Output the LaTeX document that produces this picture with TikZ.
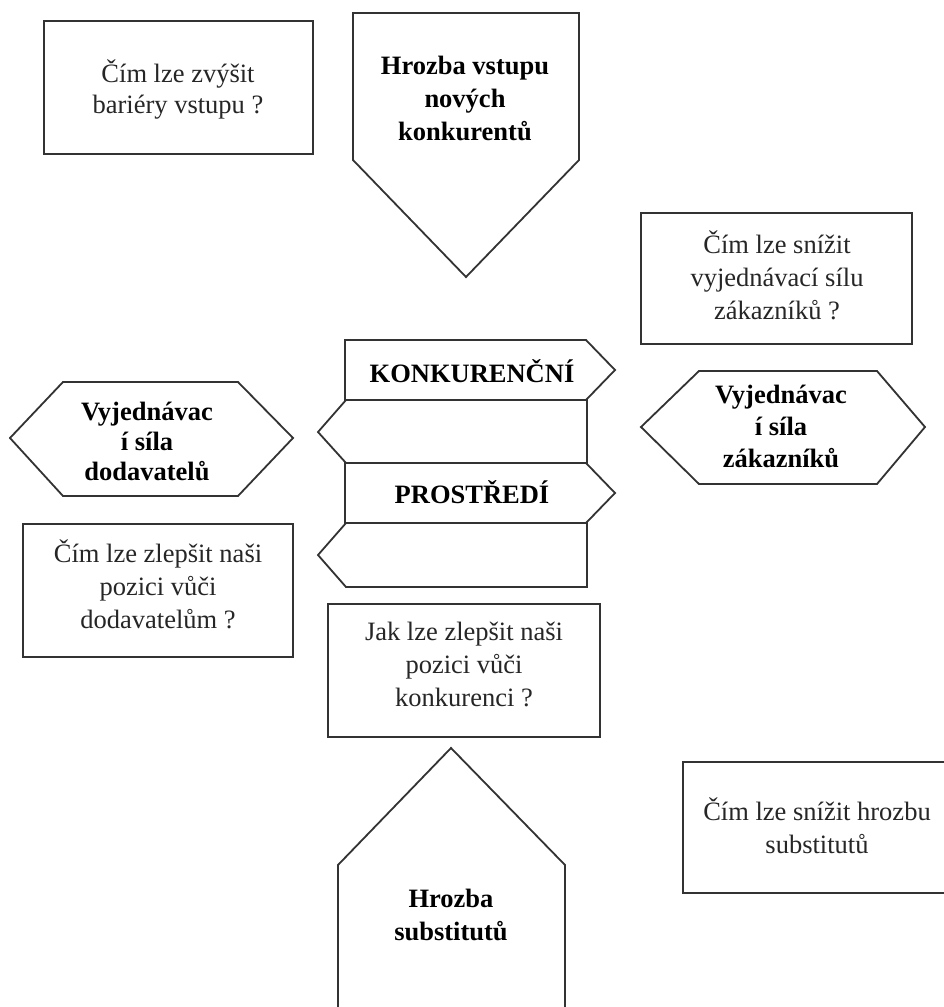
\documentclass[tikz,border=0pt]{standalone}
\usepackage{fontspec}
\setmainfont{Liberation Serif}
\newcommand\mlines[2]{{\renewcommand\arraystretch{1}\setlength\tabcolsep{0pt}\fontsize{26.5}{#1}\selectfont\begin{tabular}[t]{c}#2\end{tabular}}}
\tikzset{
  shp/.style={draw=black!80, line width=1.8pt, line join=miter},
  reg/.style={inner sep=0pt, anchor=base, text=black!85},
  bld/.style={inner sep=0pt, anchor=base, text=black, font=\bfseries},
}
\begin{document}
\begin{tikzpicture}[x=1pt,y=-1pt]
\useasboundingbox (0,0) rectangle (944,1007);
\clip (0,0) rectangle (944,1007);
\fill[white] (0,0) rectangle (944,1007);
% boxes
\draw[shp] (44,21) rectangle (313,154);
\draw[shp] (641,213) rectangle (912,344);
\draw[shp] (23,524) rectangle (293,657);
\draw[shp] (328,604) rectangle (600,737);
\draw[shp] (960,762) -- (683,762) -- (683,893) -- (960,893);
% pentagons
\draw[shp] (353,13) -- (579,13) -- (579,160) -- (466,277) -- (353,160) -- cycle;
\draw[shp] (338,1020) -- (338,865) -- (451,748) -- (565,865) -- (565,1020);
% hexagons
\draw[shp] (10,438) -- (63,382) -- (238,382) -- (293,438) -- (238,496) -- (63,496) -- cycle;
\draw[shp] (641,427) -- (699,371) -- (877,371) -- (925,427) -- (877,484) -- (699,484) -- cycle;
% central tiles
\draw[shp] (345,340) -- (586,340) -- (615,370) -- (586,400) -- (345,400) -- cycle;
\draw[shp] (346,400) -- (587,400) -- (587,463) -- (346,463) -- (318,432) -- cycle;
\draw[shp] (345,463) -- (586,463) -- (615,493) -- (586,523) -- (345,523) -- cycle;
\draw[shp] (346,523) -- (587,523) -- (587,587) -- (346,587) -- (318,555) -- cycle;
% texts
\node[reg] (q1) at (178,82) {\mlines{31}{Čím lze zvýšit\\bariéry vstupu ?}};
\node[bld] (t1) at (465,74) {\mlines{33}{Hrozba vstupu\\nových\\konkurentů}};
\node[reg] (q2) at (777,253) {\mlines{33}{Čím lze snížit\\vyjednávací sílu\\zákazníků ?}};
\node[bld] (k) at (472,382) {\mlines{32}{KONKURENČNÍ}};
\node[bld] (p) at (472,503) {\mlines{32}{PROSTŘEDÍ}};
\node[bld] (h1) at (147,420) {\mlines{30}{Vyjednávac\\í síla\\dodavatelů}};
\node[bld] (h2) at (781,403) {\mlines{32}{Vyjednávac\\í síla\\zákazníků}};
\node[reg] (q3) at (158,562) {\mlines{33}{Čím lze zlepšit naši\\pozici vůči\\dodavatelům ?}};
\node[reg] (q4) at (464,640) {\mlines{33}{Jak lze zlepšit naši\\pozici vůči\\konkurenci ?}};
\node[reg] (q5) at (817,820) {\mlines{33}{Čím lze snížit hrozbu\\substitutů}};
\node[bld] (t2) at (451,907) {\mlines{33}{Hrozba\\substitutů}};
\end{tikzpicture}
\end{document}
